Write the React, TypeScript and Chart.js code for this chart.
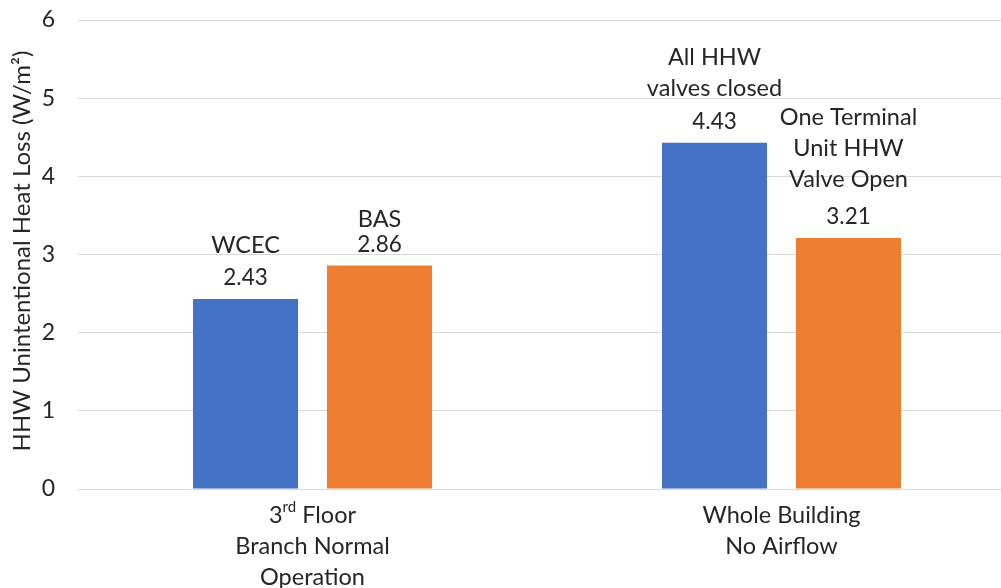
import React, { useEffect, useRef } from "react";
import { Chart, registerables } from "chart.js";

Chart.register(...registerables);

const categoryLines = [
  ["3^{rd} Floor", "Branch Normal", "Operation"],
  ["Whole Building", "No Airflow"],
];
const series1Values = [2.43, 4.43];
const series2Values = [2.86, 3.21];
const series1Names = [["WCEC"], ["All HHW", "valves closed"]];
const series2Names = [["BAS"], ["One Terminal", "Unit HHW", "Valve Open"]];
const yTicks = [0, 1, 2, 3, 4, 5, 6];
const yTitle = "HHW Unintentional Heat Loss (W/m²)";

const FONT = "Lato, 'Noto Sans', sans-serif";
const TEXT = "#262626";
const BLUE = "#4472C4";
const ORANGE = "#ED7D31";
const GRID = "#D9D9D9";
const NAME_SIZE = 23.5;
const VALUE_SIZE = 22.5;
// gap between value line and last name line, per dataset per bar
const nameGaps = [
  [33, 33],
  [25, 38],
];

function drawRich(ctx: CanvasRenderingContext2D, text: string, cx: number, cy: number, size: number) {
  const parts: { t: string; sup: boolean }[] = [];
  const re = /\^\{([^}]*)\}/g;
  let last = 0;
  let m: RegExpExecArray | null;
  while ((m = re.exec(text))) {
    if (m.index > last) parts.push({ t: text.slice(last, m.index), sup: false });
    parts.push({ t: m[1], sup: true });
    last = m.index + m[0].length;
  }
  if (last < text.length) parts.push({ t: text.slice(last), sup: false });
  const supSize = Math.round(size * 0.65);
  let total = 0;
  for (const p of parts) {
    ctx.font = `${p.sup ? supSize : size}px ${FONT}`;
    total += ctx.measureText(p.t).width;
  }
  let x = cx - total / 2;
  ctx.textAlign = "left";
  ctx.textBaseline = "middle";
  for (const p of parts) {
    ctx.font = `${p.sup ? supSize : size}px ${FONT}`;
    ctx.fillText(p.t, x, p.sup ? cy - size * 0.35 : cy);
    x += ctx.measureText(p.t).width;
  }
}

const labelPlugin = {
  id: "customLabels",
  afterDraw(chart: any) {
    const ctx = chart.ctx as CanvasRenderingContext2D;
    const names = [series1Names, series2Names];
    ctx.save();
    ctx.fillStyle = TEXT;
    chart.data.datasets.forEach((ds: any, di: number) => {
      const meta = chart.getDatasetMeta(di);
      meta.data.forEach((el: any, i: number) => {
        const vy = el.y - 21;
        drawRich(ctx, ds.data[i].toFixed(2), el.x, vy, VALUE_SIZE);
        const lines = names[di][i];
        const gap = nameGaps[di][i];
        for (let k = 0; k < lines.length; k++) {
          const ly = vy - gap - (lines.length - 1 - k) * 31;
          drawRich(ctx, lines[k], el.x, ly, NAME_SIZE);
        }
      });
    });
    const xs = chart.scales.x;
    categoryLines.forEach((lines, i) => {
      const cx = xs.getPixelForValue(i);
      lines.forEach((ln, k) => {
        drawRich(ctx, ln, cx, chart.chartArea.bottom + 26 + k * 31, NAME_SIZE);
      });
    });
    ctx.translate(22, 251);
    ctx.rotate(-Math.PI / 2);
    ctx.font = `24px ${FONT}`;
    ctx.textAlign = "center";
    ctx.textBaseline = "middle";
    ctx.fillText(yTitle, 0, 0);
    ctx.restore();
  },
};

export default function App() {
  const ref = useRef<HTMLCanvasElement>(null);
  useEffect(() => {
    if (!ref.current) return;
    const chart = new Chart(ref.current, {
      type: "bar",
      data: {
        labels: categoryLines.map((l) => l.join(" ")),
        datasets: [
          {
            data: series1Values,
            backgroundColor: BLUE,
            categoryPercentage: 0.5714,
            barPercentage: 0.784,
          },
          {
            data: series2Values,
            backgroundColor: ORANGE,
            categoryPercentage: 0.5714,
            barPercentage: 0.784,
          },
        ],
      },
      options: {
        responsive: false,
        animation: false,
        devicePixelRatio: 1,
        layout: { padding: { top: 20, bottom: 99, left: 0, right: 0 } },
        plugins: { legend: { display: false }, tooltip: { enabled: false } },
        scales: {
          x: {
            grid: { display: false },
            border: { display: true, color: GRID, width: 1 },
            ticks: { display: false },
            afterFit: (s: any) => {
              s.height = 0;
            },
          },
          y: {
            min: 0,
            max: 6,
            afterBuildTicks: (s: any) => {
              s.ticks = yTicks.map((v) => ({ value: v }));
            },
            grid: { color: GRID, drawTicks: false },
            border: { display: false },
            ticks: {
              padding: 23,
              color: TEXT,
              font: { family: FONT, size: 23 },
            },
            afterFit: (s: any) => {
              s.width = 78;
              s.paddingTop = 0;
              s.paddingBottom = 0;
            },
          },
        },
      },
      plugins: [labelPlugin],
    });
    return () => chart.destroy();
  }, []);
  return (
    <div
      style={{
        position: "fixed",
        left: 0,
        top: 0,
        width: 1001,
        height: 588,
        overflow: "hidden",
        background: "#fff",
      }}
    >
      <canvas ref={ref} width={1016} height={588} style={{ width: 1016, height: 588, display: "block" }} />
    </div>
  );
}
